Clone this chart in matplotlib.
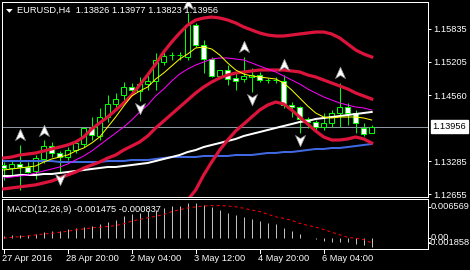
import numpy as np
import matplotlib
matplotlib.use("Agg")
import matplotlib.pyplot as plt
from matplotlib.patches import Rectangle, Polygon
from matplotlib.path import Path
import matplotlib.transforms as mtransforms

# ---------------- data ----------------
symbol_title = "EURUSD,H4  1.13826 1.13977 1.13823 1.13956"
macd_title = "MACD(12,26,9) -0.001475 -0.000837"

opens = [1.13209, 1.13151, 1.13228, 1.13181, 1.13099, 1.13335, 1.13580, 1.13440, 1.13363, 1.13503,
         1.13613, 1.13921, 1.13773, 1.14133, 1.14384, 1.14563, 1.14717, 1.14640, 1.14775, 1.14839,
         1.15205, 1.15328, 1.15334, 1.15301, 1.15912, 1.15527, 1.15251, 1.14929, 1.15045, 1.14885,
         1.14866, 1.14916, 1.14949, 1.14852, 1.14843, 1.14839, 1.14370, 1.14326, 1.14095, 1.14043,
         1.13952, 1.14018, 1.14211, 1.14338, 1.14222, 1.13921, 1.13826]
highs = [1.13278, 1.13311, 1.13600, 1.13278, 1.13407, 1.13696, 1.13663, 1.13490, 1.13567, 1.13696,
         1.13933, 1.14145, 1.14307, 1.14563, 1.14608, 1.14819, 1.14789, 1.14916, 1.15012, 1.15373,
         1.15398, 1.15398, 1.15398, 1.16138, 1.15945, 1.15623, 1.15301, 1.15045, 1.15141, 1.14981,
         1.15301, 1.15078, 1.15012, 1.14885, 1.14904, 1.14949, 1.14434, 1.14351, 1.14145, 1.14081,
         1.14211, 1.14274, 1.14800, 1.14400, 1.14274, 1.14029, 1.13977]
lows = [1.12925, 1.13022, 1.12733, 1.13054, 1.12939, 1.13253, 1.13374, 1.13085, 1.13311, 1.13440,
        1.13567, 1.13696, 1.13696, 1.14049, 1.14274, 1.14467, 1.14627, 1.14453, 1.14660, 1.14660,
        1.15141, 1.15238, 1.15238, 1.15238, 1.15494, 1.14993, 1.14916, 1.14916, 1.14756, 1.14660,
        1.14819, 1.14627, 1.14819, 1.14800, 1.14800, 1.14307, 1.14145, 1.13837, 1.13921, 1.13889,
        1.13889, 1.13952, 1.13952, 1.13985, 1.13837, 1.13773, 1.13823]
closes = [1.13151, 1.13234, 1.13181, 1.13085, 1.13343, 1.13580, 1.13440, 1.13363, 1.13503, 1.13632,
          1.13933, 1.13792, 1.14133, 1.14384, 1.14480, 1.14723, 1.14654, 1.14769, 1.14833, 1.15238,
          1.15320, 1.15328, 1.15334, 1.15912, 1.15527, 1.15251, 1.14929, 1.15045, 1.14866, 1.14839,
          1.14929, 1.14949, 1.14852, 1.14852, 1.14843, 1.14370, 1.14326, 1.14095, 1.14043, 1.13952,
          1.14018, 1.14211, 1.14338, 1.14222, 1.14018, 1.13812, 1.13956]

band_upper = [1.13349, 1.13368, 1.13407, 1.13426, 1.13446, 1.13484, 1.13523, 1.13561, 1.13600, 1.13658,
              1.13754, 1.13908, 1.14024, 1.14139, 1.14274, 1.14409, 1.14563, 1.14756, 1.14949, 1.15161,
              1.15392, 1.15584, 1.15758, 1.15912, 1.16008, 1.16047, 1.16066, 1.16047, 1.16008, 1.15951,
              1.15874, 1.15816, 1.15758, 1.15719, 1.15700, 1.15700, 1.15719, 1.15739, 1.15758, 1.15777,
              1.15777, 1.15739, 1.15662, 1.15546, 1.15430, 1.15353, 1.15296]
band_middle = [1.12754, 1.12773, 1.12793, 1.12812, 1.12832, 1.12868, 1.12906, 1.12964, 1.13022, 1.13079,
               1.13156, 1.13214, 1.13272, 1.13349, 1.13407, 1.13503, 1.13580, 1.13658, 1.13773, 1.13928,
               1.14062, 1.14197, 1.14332, 1.14467, 1.14602, 1.14717, 1.14814, 1.14891, 1.14949, 1.14987,
               1.15007, 1.15026, 1.15045, 1.15045, 1.15045, 1.15045, 1.15026, 1.15007, 1.14949, 1.14910,
               1.14852, 1.14794, 1.14737, 1.14679, 1.14602, 1.14544, 1.14486]
band_lower = [np.nan] * 21 + [1.12059, 1.12309, 1.12540, 1.12733, 1.13022, 1.13272, 1.13503, 1.13696,
              1.13870, 1.14004, 1.14139, 1.14274, 1.14370, 1.14428, 1.14390, 1.14274, 1.14139, 1.14004,
              1.13870, 1.13754, 1.13696, 1.13696, 1.13716, 1.13754, 1.13716, 1.13638]
ma_yellow = [1.13118, 1.13137, 1.13156, 1.13176, 1.13195, 1.13272, 1.13330, 1.13368, 1.13407, 1.13484,
             1.13542, 1.13638, 1.13754, 1.13947, 1.14139, 1.14351, 1.14544, 1.14640, 1.14717, 1.14871,
             1.14987, 1.15122, 1.15257, 1.15353, 1.15469, 1.15488, 1.15450, 1.15334, 1.15180, 1.15045,
             1.14968, 1.14929, 1.14910, 1.14891, 1.14871, 1.14794, 1.14660, 1.14505, 1.14351, 1.14216,
             1.14139, 1.14120, 1.14139, 1.14139, 1.14139, 1.14120, 1.14081]
ma_magenta = [1.12964, 1.12983, 1.13002, 1.13022, 1.13060, 1.13099, 1.13137, 1.13176, 1.13234, 1.13311,
              1.13388, 1.13484, 1.13600, 1.13716, 1.13831, 1.13947, 1.14081, 1.14236, 1.14370, 1.14544,
              1.14679, 1.14833, 1.14968, 1.15064, 1.15141, 1.15199, 1.15257, 1.15276, 1.15276, 1.15257,
              1.15238, 1.15180, 1.15122, 1.15064, 1.15007, 1.14929, 1.14852, 1.14775, 1.14679, 1.14602,
              1.14525, 1.14467, 1.14409, 1.14370, 1.14332, 1.14313, 1.14274]
ma_white = [1.13002, 1.13002, 1.13022, 1.13022, 1.13022, 1.13041, 1.13041, 1.13060, 1.13079, 1.13099,
            1.13118, 1.13137, 1.13156, 1.13176, 1.13176, 1.13195, 1.13214, 1.13234, 1.13253, 1.13291,
            1.13330, 1.13368, 1.13407, 1.13465, 1.13503, 1.13561, 1.13600, 1.13638, 1.13677, 1.13716,
            1.13773, 1.13812, 1.13850, 1.13889, 1.13928, 1.13966, 1.14004, 1.14043, 1.14062, 1.14101,
            1.14120, 1.14139, 1.14158, 1.14178, 1.14197, 1.14216, 1.14236]
ma_blue = [1.13291] * 7 + [1.13272] * 6 + [1.13291] * 3 + [1.13311] * 3 + [1.13330, 1.13349] + \
          [1.13368] * 4 + [1.13388] * 4 + [1.13407] * 3 + [1.13426] + [1.13446] * 2 + [1.13465] * 2 + \
          [1.13484, 1.13503] + [1.13523] * 2 + [1.13542] * 2 + [1.13561, 1.13580, 1.13600, 1.13619]

macd_hist = [0.00040, 0.00057, 0.00057, 0.00057, 0.00074, 0.00109, 0.00126, 0.00126, 0.00149, 0.00166,
             0.00189, 0.00206, 0.00246, 0.00264, 0.00298, 0.00367, 0.00401, 0.00418, 0.00458, 0.00481,
             0.00516, 0.00539, 0.00550, 0.00590, 0.00590, 0.00556, 0.00533, 0.00476, 0.00418, 0.00395,
             0.00361, 0.00327, 0.00287, 0.00252, 0.00235, 0.00172, 0.00115, 0.00063, 0.00000, -0.00020,
             -0.00057, -0.00070, -0.00070, -0.00070, -0.00100, -0.00120, -0.001475]
macd_signal = [0.00000, 0.00011, 0.00023, 0.00034, 0.00052, 0.00069, 0.00080, 0.00097, 0.00115, 0.00138,
               0.00155, 0.00172, 0.00183, 0.00195, 0.00212, 0.00241, 0.00287, 0.00315, 0.00344, 0.00367,
               0.00401, 0.00447, 0.00481, 0.00510, 0.00527, 0.00544, 0.00550, 0.00550, 0.00544, 0.00530,
               0.00505, 0.00475, 0.00450, 0.00405, 0.00360, 0.00335, 0.00300, 0.00250, 0.00215, 0.00185,
               0.00145, 0.00100, 0.00055, 0.00012, -0.00005, -0.00025, -0.000837]

up_fractals = [2, 5, 23, 30, 35, 42]
down_fractals = [7, 17, 31, 37]

price_ticks = [1.15835, 1.15205, 1.14560, 1.13285, 1.12655]
bid_price = 1.13956
macd_max = 0.006569
macd_min = -0.001858

time_tick_idx = [0, 8, 16, 24, 32, 40]
time_labels = ["27 Apr 2016", "28 Apr 20:00", "2 May 04:00", "3 May 12:00", "4 May 20:00", "6 May 04:00"]

# ---------------- layout ----------------
W, H, DPI = 470, 270, 100
FS = 6.7
PX = 72.0 / DPI  # one pixel in points

plt.rcParams["font.family"] = ["Liberation Sans", "DejaVu Sans"]

fig = plt.figure(figsize=(W / DPI, H / DPI), dpi=DPI, facecolor="black")


def rect(x0, y0, x1, y1):
    return [x0 / W, 1 - y1 / H, (x1 - x0) / W, (y1 - y0) / H]


ax = fig.add_axes(rect(2, 2.3, 427.5, 196.7))
axm = fig.add_axes(rect(2, 199.3, 427.5, 249))

slot = 8.0
x_first = 3.7
xl = ((2 - x_first) / slot, (427.5 - x_first) / slot)
# price scale: pixels -> price
p_per_px = 0.0001927
p_top = 1.163938 - p_per_px * 2.3
p_bot = 1.163938 - p_per_px * 196.7

for a in (ax, axm):
    a.set_facecolor("black")
    a.set_xlim(*xl)
    for s in a.spines.values():
        s.set_color("white")
        s.set_linewidth(1.0 * PX)
    a.set_xticks([])

ax.set_ylim(p_bot, p_top)
axm.set_ylim(macd_min, macd_max)

x = np.arange(len(opens))

# candles
green = "#00ff00"
bw = 0.58
for i in range(len(opens)):
    o, h, l, c = opens[i], highs[i], lows[i], closes[i]
    ax.vlines(i, l, h, color=green, lw=1.0 * PX, zorder=2)
    bottom = min(o, c)
    height = abs(c - o)
    face = "black" if c >= o else "white"
    ax.add_patch(Rectangle((i - bw / 2, bottom), bw, height, facecolor=face,
                           edgecolor=green, lw=1.0 * PX, zorder=3))

# indicator lines
ax.plot(x, ma_blue, color="#4169e1", lw=2.0 * PX, zorder=4)
ax.plot(x, ma_white, color="white", lw=2.0 * PX, zorder=4)
ax.plot(x, band_upper, color="#dc143c", lw=3.2 * PX, zorder=4)
ax.plot(x, band_middle, color="#dc143c", lw=3.2 * PX, zorder=4)
ax.plot(x, band_lower, color="#dc143c", lw=3.2 * PX, zorder=4)
ax.plot(x, ma_magenta, color="#ff00ff", lw=1.0 * PX, zorder=5)
ax.plot(x, ma_yellow, color="#ffff00", lw=1.0 * PX, zorder=5)

# bid line
ax.axhline(bid_price, color="#8c96a3", lw=1.0 * PX, zorder=1)

# fractal arrows
up_path = Path([(0, 1), (0.8, -0.8), (0, -0.3), (-0.8, -0.8), (0, 1)],
               [Path.MOVETO, Path.LINETO, Path.LINETO, Path.LINETO, Path.CLOSEPOLY])
dn_path = Path([(0, -1), (0.8, 0.8), (0, 0.3), (-0.8, 0.8), (0, -1)],
               [Path.MOVETO, Path.LINETO, Path.LINETO, Path.LINETO, Path.CLOSEPOLY])
up_tr = ax.transData + mtransforms.ScaledTranslation(0, 9.5 / DPI, fig.dpi_scale_trans)
dn_tr = ax.transData + mtransforms.ScaledTranslation(0, -7.5 / DPI, fig.dpi_scale_trans)
ax.plot(up_fractals, [highs[i] for i in up_fractals], ls="none", marker=up_path, ms=9,
        mfc="white", mec="#9a9a9a", mew=0.5, transform=up_tr, zorder=6, clip_on=True)
ax.plot(down_fractals, [lows[i] for i in down_fractals], ls="none", marker=dn_path, ms=9,
        mfc="white", mec="#9a9a9a", mew=0.5, transform=dn_tr, zorder=6, clip_on=True)

# price axis
ax.yaxis.tick_right()
ax.set_yticks(price_ticks)
ax.set_yticklabels([f"{v:.5f}" for v in price_ticks])
ax.tick_params(axis="y", direction="out", length=3 * PX, width=1.0 * PX, color="white",
               labelcolor="white", labelsize=FS, pad=2.2)
bt = mtransforms.blended_transform_factory(ax.transAxes, ax.transData)
ax.text(1.0115, bid_price, f"{bid_price:.5f}", transform=bt, color="black", fontsize=FS,
        va="center", ha="left",
        bbox=dict(boxstyle="square,pad=0.2", fc="white", ec="white"), clip_on=False)

# title
fig.text(17 / W, 1 - 10.8 / H, symbol_title, color="white", fontsize=FS, va="center", ha="left")
fig.add_artist(Polygon([[6, H - 9], [12.7, H - 9], [9.35, H - 12.8]], closed=True,
                       facecolor="white", edgecolor="none",
                       transform=mtransforms.IdentityTransform()))

# MACD panel
axm.vlines(x, 0, macd_hist, color="#c0c0c0", lw=1.0 * PX, zorder=2)
axm.plot(x, macd_signal, color="#ff0000", lw=1.0 * PX, ls=(0, (3, 3)), zorder=3)
axm.set_yticks([])
axm.text(5 / 425.5, 0.8, macd_title, transform=axm.transAxes, color="white", fontsize=FS,
         va="center", ha="left")
mt = mtransforms.blended_transform_factory(axm.transAxes, axm.transData)
for val, lab, dy, dx in [(macd_max, f"{macd_max:.6f}", -7.2, 3.0),
                         (0.0, "0.00", 0.3, 3.5),
                         (macd_min, f"{macd_min:.6f}", 6.3, 0.0)]:
    tr = mtransforms.offset_copy(mt, fig=fig, x=dx, y=dy, units="dots")
    axm.text(1.0, val, lab, transform=tr, color="white", fontsize=FS, va="center", ha="left",
             clip_on=False)
    axm.plot([1.0, 1.0 + 2.5 / 425.5], [val, val], transform=mtransforms.offset_copy(
        mt, fig=fig, x=0, y=dy, units="dots"), color="white", lw=1.0 * PX, clip_on=False)

# time axis
for idx, lab in zip(time_tick_idx, time_labels):
    xp = (x_first + slot * idx)
    fig.add_artist(plt.Line2D([xp, xp], [H - 249, H - 253], color="white", lw=1.0 * PX,
                              transform=mtransforms.IdentityTransform()))
    fig.text((xp - 1.5) / W, 1 - 258.5 / H, lab, color="white", fontsize=FS, va="center", ha="left")

fig.savefig("out.png", dpi=DPI, facecolor="black")
